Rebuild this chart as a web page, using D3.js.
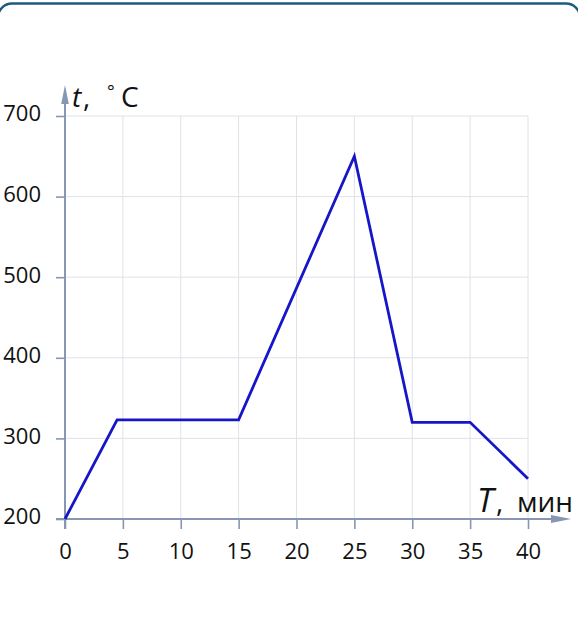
<!DOCTYPE html>
<html><head><meta charset="utf-8">
<script src="https://cdn.jsdelivr.net/npm/d3@7"></script>
<style>body{margin:0;background:#fff}svg{display:block}</style>
</head><body>
<svg id="c" width="578" height="634"></svg>
<script>
const times = [0, 4.5, 15, 25, 30, 35, 40];
const temps = [200, 323, 323, 650, 320, 320, 250];
const xTicks = [0, 5, 10, 15, 20, 25, 30, 35, 40];
const yTicks = [200, 300, 400, 500, 600, 700];

const svg = d3.select("#c");
const font = "'Open Sans', 'DejaVu Sans', sans-serif";
const x = d3.scaleLinear().domain([0, 40]).range([65, 528]);
const y = d3.scaleLinear().domain([200, 700]).range([519, 116]);
const axisCol = "#8797b3";

// frame
svg.append("rect").attr("x", -2).attr("y", 3.5).attr("width", 582).attr("height", 700)
  .attr("rx", 14).attr("fill", "none").attr("stroke", "#1d5a80").attr("stroke-width", 2.4);

// grid
svg.append("g").selectAll("line").data(xTicks.slice(1)).join("line")
  .attr("x1", d => x(d)).attr("x2", d => x(d)).attr("y1", y(700)).attr("y2", y(200))
  .attr("stroke", "#e0e2e8").attr("stroke-width", 1);
svg.append("g").selectAll("line").data(yTicks.slice(1)).join("line")
  .attr("x1", x(0)).attr("x2", x(40)).attr("y1", d => y(d)).attr("y2", d => y(d))
  .attr("stroke", "#e0e2e8").attr("stroke-width", 1);

// x axis
const xa = svg.append("g").attr("transform", `translate(0,${y(200)})`)
  .call(d3.axisBottom(x).tickValues(xTicks).tickSize(10).tickPadding(14).tickFormat(d3.format("d")));
xa.select(".domain").remove();
xa.selectAll(".tick line").attr("stroke", axisCol).attr("stroke-width", 1.6);
xa.selectAll(".tick text").attr("font-family", font).attr("font-size", 22).attr("fill", "#111");

// y axis
const ya = svg.append("g").attr("transform", `translate(${x(0)},0)`)
  .call(d3.axisLeft(y).tickValues(yTicks).tickSize(9).tickPadding(15).tickFormat(d3.format("d")));
ya.select(".domain").remove();
ya.selectAll(".tick line").attr("stroke", axisCol).attr("stroke-width", 1.6);
ya.selectAll(".tick text").attr("font-family", font).attr("font-size", 22).attr("fill", "#111").attr("dy", "0.22em");

// axis lines with arrows
svg.append("line").attr("x1", 56).attr("x2", 556).attr("y1", y(200)).attr("y2", y(200))
  .attr("stroke", axisCol).attr("stroke-width", 2);
svg.append("path").attr("d", `M571,${y(200)} L551,${y(200)-4} L551,${y(200)+4} Z`).attr("fill", axisCol);
svg.append("line").attr("x1", x(0)).attr("x2", x(0)).attr("y1", 529).attr("y2", 100)
  .attr("stroke", axisCol).attr("stroke-width", 2);
svg.append("path").attr("d", `M${x(0)},85 L${x(0)-3.8},104 L${x(0)+3.8},104 Z`).attr("fill", axisCol);

// line
svg.append("path").datum(times.map((t, i) => [t, temps[i]]))
  .attr("d", d3.line().x(d => x(d[0])).y(d => y(d[1])))
  .attr("fill", "none").attr("stroke", "#1616c8").attr("stroke-width", 2.8).attr("stroke-linejoin", "miter");

// axis titles
const yt = svg.append("text").attr("y", 107).attr("font-family", font).attr("font-size", 28).attr("fill", "#111");
yt.append("tspan").attr("x", 72).attr("font-style", "italic").text("t");
yt.append("tspan").attr("x", 83).text(",");
yt.append("tspan").attr("x", 107).attr("font-size", 18).attr("dy", -9).text("°");
yt.append("tspan").attr("x", 121).attr("dy", 9).text("C");

const xt = svg.append("text").attr("y", 512).attr("font-family", font).attr("font-size", 28).attr("fill", "#111");
xt.append("tspan").attr("x", 477).attr("font-style", "italic").attr("font-size", 33).text("T");
xt.append("tspan").attr("x", 496).text(",");
xt.append("tspan").attr("x", 517).text("мин");
</script>
</body></html>
